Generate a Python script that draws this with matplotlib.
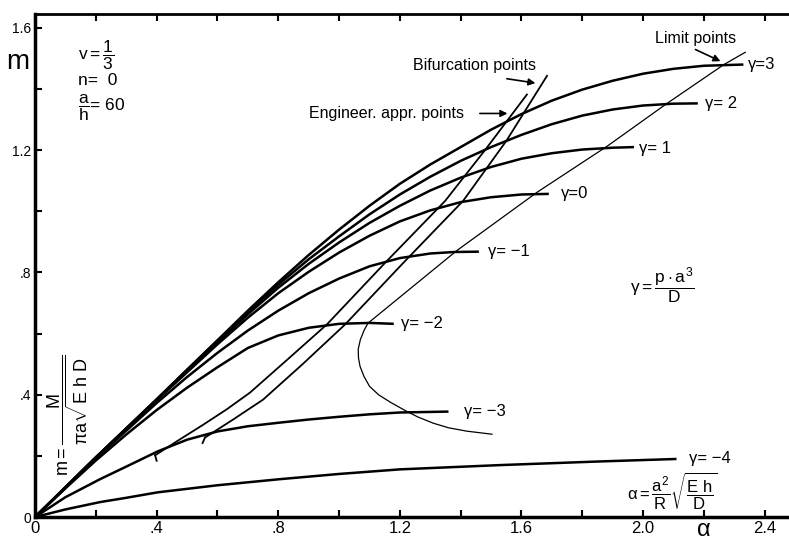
import matplotlib
matplotlib.use('Agg')
from matplotlib import pyplot as plt
from matplotlib.ticker import MultipleLocator

plt.rcParams['font.family'] = ['Liberation Sans', 'DejaVu Sans']
plt.rcParams['mathtext.fontset'] = 'custom'
plt.rcParams['mathtext.rm'] = 'Liberation Sans'
plt.rcParams['mathtext.it'] = 'Liberation Sans'
plt.rcParams['mathtext.bf'] = 'Liberation Sans:bold'

# gamma curves (alpha, m)
g3_x = [0, 0.1, 0.2, 0.3, 0.4, 0.5, 0.6, 0.7, 0.8, 0.9, 1.0, 1.1, 1.2, 1.3, 1.4, 1.5, 1.6, 1.7, 1.8, 1.9, 2.0, 2.1, 2.2, 2.33]
g3_y = [0, 0.097, 0.195, 0.29, 0.385, 0.482, 0.578, 0.675, 0.768, 0.857, 0.94, 1.018, 1.09, 1.153, 1.21, 1.267, 1.318,
        1.362, 1.398, 1.427, 1.45, 1.466, 1.476, 1.48]
g2_x = [0, 0.2, 0.4, 0.6, 0.7, 0.8, 0.9, 1.0, 1.1, 1.2, 1.3, 1.4, 1.5, 1.6, 1.7, 1.8, 1.9, 2.0, 2.1, 2.18]
g2_y = [0, 0.195, 0.385, 0.577, 0.67, 0.76, 0.843, 0.918, 0.99, 1.055, 1.113, 1.165, 1.21, 1.25, 1.285, 1.313,
        1.333, 1.346, 1.352, 1.353]
g1_x = [0, 0.2, 0.4, 0.6, 0.7, 0.8, 0.9, 1.0, 1.1, 1.2, 1.3, 1.4, 1.5, 1.6, 1.7, 1.8, 1.9, 1.97]
g1_y = [0, 0.195, 0.383, 0.572, 0.663, 0.75, 0.828, 0.898, 0.962, 1.018, 1.068, 1.11, 1.145, 1.172, 1.19, 1.202,
        1.208, 1.21]
g0_x = [0, 0.2, 0.4, 0.6, 0.7, 0.8, 0.9, 1.0, 1.1, 1.2, 1.3, 1.4, 1.5, 1.6, 1.69]
g0_y = [0, 0.195, 0.382, 0.565, 0.652, 0.732, 0.802, 0.865, 0.92, 0.967, 1.003, 1.03, 1.046, 1.055, 1.057]
gm1_x = [0, 0.2, 0.4, 0.5, 0.6, 0.7, 0.8, 0.9, 1.0, 1.1, 1.2, 1.3, 1.38, 1.46]
gm1_y = [0, 0.192, 0.373, 0.458, 0.537, 0.61, 0.675, 0.732, 0.78, 0.82, 0.847, 0.862, 0.867, 0.868]
gm2_x = [0, 0.1, 0.2, 0.3, 0.4, 0.5, 0.6, 0.7, 0.8, 0.9, 1.0, 1.1, 1.18]
gm2_y = [0, 0.094, 0.185, 0.27, 0.35, 0.423, 0.49, 0.553, 0.594, 0.619, 0.632, 0.635, 0.632]
gm3_x = [0, 0.1, 0.214, 0.3, 0.404, 0.5, 0.6, 0.7, 0.806, 0.9, 1.0, 1.1, 1.2, 1.36]
gm3_y = [0, 0.065, 0.124, 0.165, 0.215, 0.253, 0.28, 0.297, 0.309, 0.319, 0.328, 0.336, 0.342, 0.345]
gm4_x = [0, 0.1, 0.214, 0.3, 0.404, 0.6, 0.806, 1.0, 1.2, 1.53, 1.86, 2.11]
gm4_y = [0, 0.025, 0.049, 0.063, 0.081, 0.104, 0.124, 0.141, 0.156, 0.170, 0.182, 0.19]

gamma_curves = [(g3_x, g3_y), (g2_x, g2_y), (g1_x, g1_y), (g0_x, g0_y),
                (gm1_x, gm1_y), (gm2_x, gm2_y), (gm3_x, gm3_y), (gm4_x, gm4_y)]
gamma_labels = ['γ=3', 'γ= 2', 'γ= 1', 'γ=0', 'γ= −1', 'γ= −2', 'γ= −3', 'γ= −4']
label_x = [2.345, 2.205, 1.985, 1.73, 1.49, 1.205, 1.41, 2.15]
label_y = [1.48, 1.353, 1.205, 1.057, 0.868, 0.632, 0.345, 0.19]

# limit points, engineering approximation and bifurcation lines
limit_x = [2.336, 2.266, 2.079, 1.882, 1.651, 1.388, 1.095, 1.082, 1.07, 1.063, 1.064, 1.069, 1.082, 1.10, 1.13,
           1.168, 1.22, 1.26, 1.31, 1.36, 1.42, 1.503]
limit_y = [1.52, 1.48, 1.353, 1.213, 1.062, 0.872, 0.634, 0.61, 0.58, 0.549, 0.52, 0.493, 0.46, 0.428, 0.40,
           0.376, 0.347, 0.327, 0.307, 0.292, 0.281, 0.271]
eng_x = [0.395, 0.47, 0.55, 0.63, 0.707, 0.83, 0.96, 1.15, 1.349, 1.48, 1.618]
eng_y = [0.202, 0.25, 0.30, 0.352, 0.407, 0.515, 0.63, 0.83, 1.034, 1.20, 1.382]
bif_x = [0.559, 0.65, 0.75, 0.88, 1.02, 1.21, 1.408, 1.55, 1.684]
bif_y = [0.26, 0.318, 0.384, 0.50, 0.63, 0.83, 1.034, 1.23, 1.443]

fig = plt.figure(figsize=(7.89, 5.42), dpi=100)
ax = fig.add_axes([0.0444, 0.046, 0.9556, 0.928])

for cx, cy in gamma_curves:
    ax.plot(cx, cy, color='black', lw=1.8, solid_capstyle='butt', solid_joinstyle='round')
ax.plot(limit_x, limit_y, color='black', lw=0.9)
ax.plot(eng_x, eng_y, color='black', lw=1.3)
ax.plot(bif_x, bif_y, color='black', lw=1.3)
# little hooks at the lower ends
ax.plot([eng_x[0], eng_x[0] + 0.005], [eng_y[0], eng_y[0] - 0.018], color='black', lw=1.3)
ax.plot([bif_x[0], bif_x[0] - 0.008], [bif_y[0], bif_y[0] - 0.018], color='black', lw=1.3)

for lab, lx, ly in zip(gamma_labels, label_x, label_y):
    ax.text(lx, ly, lab, fontsize=12, ha='left', va='center')

ax.annotate('', xy=(1.655, 1.418), xytext=(1.543, 1.435),
            arrowprops=dict(arrowstyle='-|>', color='black', lw=1.2, mutation_scale=10))
ax.text(1.243, 1.477, 'Bifurcation points', fontsize=11.5, ha='left', va='center')
ax.annotate('', xy=(1.563, 1.32), xytext=(1.454, 1.32),
            arrowprops=dict(arrowstyle='-|>', color='black', lw=1.2, mutation_scale=10))
ax.text(0.901, 1.32, 'Engineer. appr. points', fontsize=11.5, ha='left', va='center')
ax.annotate('', xy=(2.263, 1.487), xytext=(2.164, 1.533),
            arrowprops=dict(arrowstyle='-|>', color='black', lw=1.2, mutation_scale=10))
ax.text(2.04, 1.565, 'Limit points', fontsize=11.5, ha='left', va='center')

ax.text(0.141, 1.51, r'v$=\dfrac{1}{3}$', fontsize=12.5, ha='left', va='center')
ax.text(0.141, 1.428, 'n=  0', fontsize=12.5, ha='left', va='center')
ax.text(0.141, 1.337, r'$\dfrac{a}{h}$= 60', fontsize=12.5, ha='left', va='center')

ax.text(1.957, 0.755, r'$\gamma = \dfrac{p\cdot a^3}{D}$', fontsize=12.5, ha='left', va='center')
ax.text(2.095, 0.085, r'$\alpha = \dfrac{a^2}{R}\sqrt{\dfrac{E\ h}{D}}$', fontsize=12, ha='center', va='center')
ax.text(0.108, 0.333, r'$m = \dfrac{M}{\pi a\sqrt{E\ h\ D}}$', fontsize=13, rotation=90,
        ha='center', va='center')

ax.text(-0.056, 1.487, 'm', fontsize=20, ha='center', va='center', clip_on=False)
ax.text(2.2, -0.078, 'α', fontsize=17, ha='center', va='bottom', clip_on=False)

ax.set_xlim(0, 2.48)
ax.set_ylim(0, 1.645)
ax.set_xticks([0, 0.4, 0.8, 1.2, 1.6, 2.0, 2.2, 2.4])
ax.set_xticklabels(['0', '.4', '.8', '1.2', '1.6', '2.0', '', '2.4'])
ax.xaxis.set_minor_locator(MultipleLocator(0.2))
ax.set_yticks([0, 0.4, 0.8, 1.2, 1.6])
ax.set_yticklabels(['0', '.4', '.8', '1.2', '1.6'])
ax.yaxis.set_minor_locator(MultipleLocator(0.2))
ax.tick_params(axis='both', which='both', direction='in', top=True, right=False)
ax.tick_params(axis='x', which='major', length=5, width=1.5, pad=3, labelsize=12)
ax.tick_params(axis='x', which='minor', length=5, width=1.5)
ax.tick_params(axis='y', which='major', length=5, width=1.5, labelsize=10, pad=3)
ax.tick_params(axis='y', which='minor', length=5, width=1.5)
ax.spines['right'].set_visible(False)
ax.spines['left'].set_linewidth(2.5)
ax.spines['bottom'].set_linewidth(2.5)
ax.spines['top'].set_linewidth(2.0)

fig.savefig('out.png', dpi=100)
